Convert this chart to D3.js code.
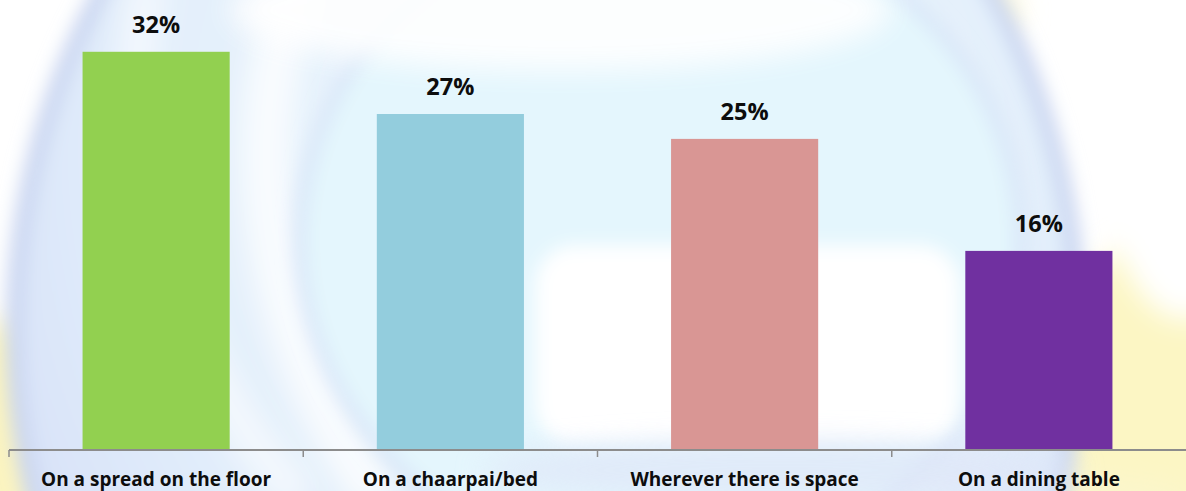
<!DOCTYPE html>
<html>
<head>
<meta charset="utf-8">
<script src="https://cdn.jsdelivr.net/npm/d3@7"></script>
<style>
  html, body { margin: 0; padding: 0; background: #ffffff; overflow: hidden; }
  svg { display: block; }
</style>
</head>
<body>
<svg id="chart" width="1186" height="491"></svg>
<script>
// ---- data ----
const categories = ["On a spread on the floor", "On a chaarpai/bed", "Wherever there is space", "On a dining table"];
const values = [32, 27, 25, 16];
const barColors = ["#92d050", "#93cddd", "#d99694", "#7030a0"];
const valueLabels = ["32%", "27%", "25%", "16%"];

const W = 1186, H = 491;
const svg = d3.select("#chart");
const defs = svg.append("defs");

// ---- decorative watermark background ----
const blur = defs.append("filter").attr("id", "blur").attr("x", "-50%").attr("y", "-50%").attr("width", "200%").attr("height", "200%");
blur.append("feGaussianBlur").attr("stdDeviation", 14);
const blurM = defs.append("filter").attr("id", "blurM").attr("x", "-50%").attr("y", "-50%").attr("width", "200%").attr("height", "200%");
blurM.append("feGaussianBlur").attr("stdDeviation", 9);
const blurS = defs.append("filter").attr("id", "blurS").attr("x", "-50%").attr("y", "-50%").attr("width", "200%").attr("height", "200%");
blurS.append("feGaussianBlur").attr("stdDeviation", 6);

const rg = defs.append("radialGradient").attr("id", "disc").attr("cx", "0.55").attr("cy", "0.35").attr("r", "0.6");
rg.append("stop").attr("offset", "0").attr("stop-color", "#ecf8fe");
rg.append("stop").attr("offset", "0.7").attr("stop-color", "#e3effb");
rg.append("stop").attr("offset", "1").attr("stop-color", "#d8e2f8");

const bg = svg.append("g").attr("class", "bg");
bg.append("rect").attr("width", W).attr("height", H).attr("fill", "#ffffff");
// yellow glows
bg.append("ellipse").attr("cx", 1180).attr("cy", 430).attr("rx", 140).attr("ry", 200).attr("fill", "#fcf6c4").attr("filter", "url(#blur)");
bg.append("ellipse").attr("cx", 0).attr("cy", 440).attr("rx", 60).attr("ry", 120).attr("fill", "#fbf4c0").attr("filter", "url(#blur)");
bg.append("ellipse").attr("cx", 700).attr("cy", 500).attr("rx", 500).attr("ry", 40).attr("fill", "#fbf6cc").attr("filter", "url(#blur)");
bg.append("ellipse").attr("cx", 960).attr("cy", 10).attr("rx", 60).attr("ry", 40).attr("fill", "#fcf8d8").attr("filter", "url(#blur)");
// outer disc
bg.append("ellipse").attr("cx", 546).attr("cy", 330).attr("rx", 532).attr("ry", 618)
  .attr("fill", "url(#disc)").attr("stroke", "#c8d4f0").attr("stroke-width", 16).attr("filter", "url(#blurM)");
// white sheen between rings
bg.append("path").attr("d", "M 150 -20 C 110 120, 150 330, 300 500")
  .attr("fill", "none").attr("stroke", "#ffffff").attr("stroke-opacity", 0.55).attr("stroke-width", 40).attr("filter", "url(#blur)");
bg.append("path").attr("d", "M 300 -20 C 250 100, 240 300, 380 500")
  .attr("fill", "none").attr("stroke", "#ffffff").attr("stroke-opacity", 0.75).attr("stroke-width", 50).attr("filter", "url(#blur)");
// inner circle (lighter cyan)
bg.append("ellipse").attr("cx", 660).attr("cy", 240).attr("rx", 360).attr("ry", 330)
  .attr("fill", "#e4f6fd").attr("stroke", "#d6e3f7").attr("stroke-width", 10).attr("filter", "url(#blurM)");
// G opening (white)
bg.append("rect").attr("x", 535).attr("y", 245).attr("width", 425).attr("height", 200).attr("rx", 40)
  .attr("fill", "#ffffff").attr("filter", "url(#blurM)");
// bottom of inner ring bluish
bg.append("ellipse").attr("cx", 780).attr("cy", 470).attr("rx", 300).attr("ry", 30)
  .attr("fill", "#dfe6f8").attr("opacity", 0.7).attr("filter", "url(#blur)");
// top-right outside area white
bg.append("ellipse").attr("cx", 1186).attr("cy", 120).attr("rx", 90).attr("ry", 200)
  .attr("fill", "#ffffff").attr("filter", "url(#blur)");
// top center light
bg.append("ellipse").attr("cx", 560).attr("cy", 10).attr("rx", 330).attr("ry", 60)
  .attr("fill", "#ffffff").attr("opacity", 0.9).attr("filter", "url(#blur)");

// ---- scales ----
const x = d3.scaleBand().domain(categories).range([9, 1186]).paddingInner(0.5).paddingOuter(0.25);
const y = d3.scaleLinear().domain([0, 36]).range([450, 2]);

const data = categories.map((c, i) => ({ c, v: values[i], color: barColors[i], label: valueLabels[i] }));

// ---- bars ----
svg.append("g").selectAll("rect").data(data).join("rect")
  .attr("x", d => x(d.c))
  .attr("y", d => y(d.v))
  .attr("width", x.bandwidth())
  .attr("height", d => y(0) - y(d.v))
  .attr("fill", d => d.color);

// ---- axis ----
const axisG = svg.append("g").attr("transform", `translate(0,${y(0)})`);
axisG.append("line").attr("x1", 9).attr("x2", 1186).attr("y1", 0).attr("y2", 0)
  .attr("stroke", "#8c8c8c").attr("stroke-width", 2);
const tickXs = [x.range()[0]].concat(categories.slice(1).map(c => x(c) - (x.step() - x.bandwidth()) / 2));
axisG.selectAll("line.tick").data(tickXs).join("line").attr("class", "tick")
  .attr("x1", d => d).attr("x2", d => d).attr("y1", 0).attr("y2", 7)
  .attr("stroke", "#8c8c8c").attr("stroke-width", 1.5);

// category labels
svg.append("g").selectAll("text").data(data).join("text")
  .attr("x", d => x(d.c) + x.bandwidth() / 2)
  .attr("y", 486)
  .attr("text-anchor", "middle")
  .attr("font-family", "'Open Sans', sans-serif")
  .attr("font-weight", "bold")
  .attr("font-size", 19)
  .attr("fill", "#0d0d0d")
  .text(d => d.c);

// value labels
svg.append("g").selectAll("text").data(data).join("text")
  .attr("x", d => x(d.c) + x.bandwidth() / 2)
  .attr("y", d => y(d.v) - 19)
  .attr("text-anchor", "middle")
  .attr("font-family", "'Open Sans', sans-serif")
  .attr("font-weight", "bold")
  .attr("font-size", 23.5)
  .attr("fill", "#0d0d0d")
  .text(d => d.label);
</script>
</body>
</html>
